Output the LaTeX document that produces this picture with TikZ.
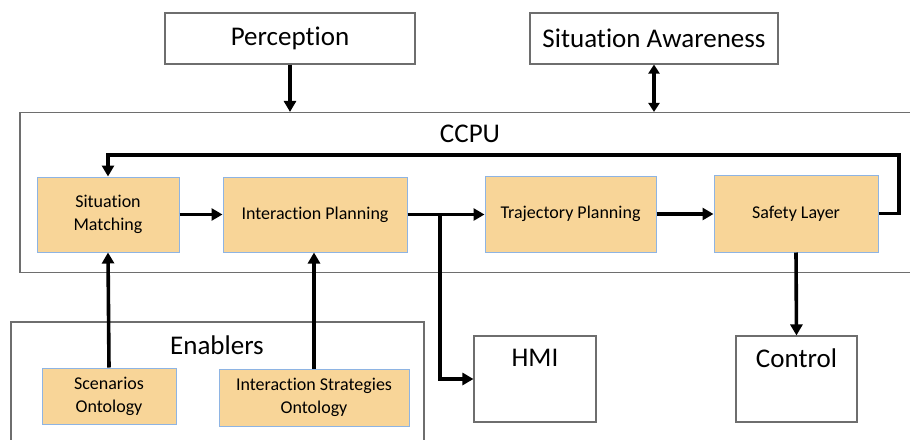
\documentclass[tikz,border=0pt]{standalone}
\usepackage{fontspec}
\setmainfont{Carlito}[RawFeature={-liga}]
\usetikzlibrary{arrows.meta,calc}

\definecolor{blockfill}{HTML}{F8D598}
\definecolor{blockedge}{HTML}{8EB4E3}
\definecolor{frameedge}{HTML}{6E6E6E}

\tikzset{
  bigfont/.style={font=\fontsize{27}{32}\selectfont},
  smallfont/.style={font=\fontsize{18}{23}\selectfont},
  framebox/.style={draw=frameedge, line width=1.1pt, fill=white, inner sep=0pt},
  plainbox/.style={framebox, bigfont, align=center},
  block/.style={draw=blockedge, line width=1pt, fill=blockfill, inner sep=0pt,
                smallfont, align=center},
  caption/.style={bigfont, inner sep=0pt},
  flow/.style={line width=3.6pt, line join=miter,
               -{Triangle[length=11pt,width=12pt]}},
  twoway/.style={line width=3.6pt,
               {Triangle[length=9pt,width=11pt]}-{Triangle[length=9pt,width=11pt]}},
}

\begin{document}
\begin{tikzpicture}[x=1pt, y=-1pt]
  \clip (0,0) rectangle (910,439);
  \fill[white] (0,0) rectangle (910,439);

  % external inputs
  \node[plainbox, minimum width=250pt, minimum height=51pt] (per) at (290,38.5) {Perception};
  \node[plainbox, minimum width=248pt, minimum height=51pt] (sa)  at (654,38.5) {Situation Awareness};

  % CCPU container
  \node[framebox, minimum width=895pt, minimum height=160pt] (ccpu) at (467.5,192.5) {};
  \node[caption] (ccputxt) at (470,134) {CCPU};

  % processing chain
  \node[block, minimum width=142pt, minimum height=75pt] (sm) at (108,214.5) {Situation\\Matching};
  \node[block, minimum width=184pt, minimum height=75pt] (ip) at (315,214.5) {Interaction Planning};
  \node[block, minimum width=171pt, minimum height=76pt] (tp) at (570.5,214) {Trajectory Planning};
  \node[block, minimum width=164pt, minimum height=77pt] (sl) at (796,213.5) {Safety Layer};

  % enablers container
  \node[framebox, minimum width=413pt, minimum height=130pt] (en) at (217.5,387) {};
  \node[caption] (entxt) at (217,345) {Enablers};
  \node[block, minimum width=134pt, minimum height=56pt] (so)  at (109,396) {Scenarios\\Ontology};
  \node[block, minimum width=190pt, minimum height=57pt] (iso) at (314,397.5) {Interaction Strategies\\Ontology};

  % outputs
  \node[framebox, minimum width=122pt, minimum height=86pt] (hmi) at (535,379) {};
  \node[caption] (hmitxt) at (535,358) {HMI};
  \node[framebox, minimum width=121pt, minimum height=86pt] (ctl) at (796.5,379) {};
  \node[caption] (ctltxt) at (796.5,358) {Control};

  % connectors
  \draw[flow] (per.south) -- (per.south |- ccpu.north);
  \draw[twoway] (sa.south) -- (sa.south |- ccpu.north);

  \draw[flow] (sm.east) -- (sm.east -| ip.west);
  \draw[flow] (ip.east) -- (ip.east -| tp.west);
  \draw[flow] (tp.east) -- (tp.east -| sl.west);

  \coordinate (hmiin) at (440,379);
  \draw[flow] (ip.east) -| (hmiin) -- (hmi.west);

  \coordinate (fbr) at (899,155);
  \coordinate (fbl) at (108,155);
  \draw[flow] (sl.east) -| (fbr) -- (fbl) -- (sm.north);

  \draw[flow] (sl.south) -- (ctl.north);

  \draw[flow] (so.north) -- (sm.south);
  \draw[flow] (iso.north) -- (iso.north |- ip.south);
\end{tikzpicture}
\end{document}
